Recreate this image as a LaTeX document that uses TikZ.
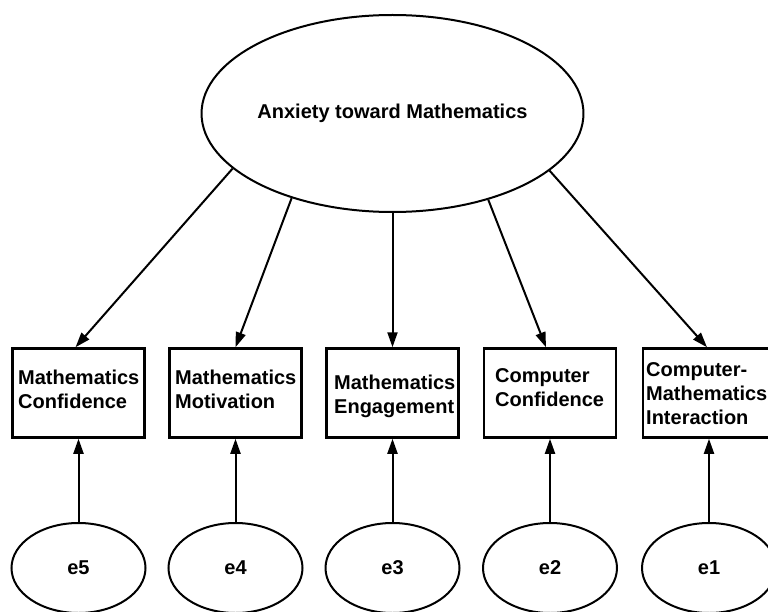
\documentclass[tikz,border=0pt]{standalone}
\usepackage{fontspec}
\setmainfont{Liberation Sans}
\usetikzlibrary{shapes.geometric,arrows.meta}
\tikzset{
  latent/.style={ellipse,draw,line width=2pt,inner sep=0pt,font=\fontsize{20}{24}\selectfont\bfseries},
  errnode/.style={ellipse,draw,line width=2pt,inner sep=0pt,minimum width=134pt,minimum height=90pt,font=\fontsize{20}{24}\selectfont\bfseries},
  obsbox/.style={rectangle,draw,line width=2.5pt,minimum width=132pt,minimum height=89pt,inner sep=0pt},
  boxtext/.style={anchor=north west,inner sep=0pt,align=left,font=\fontsize{20}{24}\selectfont\bfseries},
  path arrow/.style={line width=2pt,-{Triangle[length=15pt,width=10pt]}}
}
\begin{document}
\begin{tikzpicture}[x=1pt,y=-1pt]
\useasboundingbox (0,0) rectangle (768,612);
\fill[white] (0,0) rectangle (768,612);
\clip (0,0) rectangle (768,612);
% latent factor
\node[latent,minimum width=350pt,minimum height=197pt] (A) at (392.5,113.5) {Anxiety toward Mathematics};
% observed boxes
\node[obsbox] (b1) at (78.5,393) {};
\node[obsbox] (b2) at (235.5,393) {};
\node[obsbox] (b3) at (392.5,393) {};
\node[obsbox] (b4) at (550,393) {};
\node[obsbox] (b5) at (709,393) {};
\node[boxtext] (t1) at (18,370) {Mathematics\\Confidence};
\node[boxtext] (t2) at (175,370) {Mathematics\\Motivation};
\node[boxtext] (t3) at (334,375) {Mathematics\\Engagement};
\node[boxtext] (t4) at (495,368) {Computer\\Confidence};
\node[boxtext] (t5) at (646,362) {Computer-\\Mathematics\\Interaction};
% error terms
\node[errnode] (e5) at (78.5,568) {e5};
\node[errnode] (e4) at (235.5,568) {e4};
\node[errnode] (e3) at (392.5,568) {e3};
\node[errnode] (e2) at (550,568) {e2};
\node[errnode] (e1) at (709,568) {e1};
% loadings
\draw[path arrow] (A.199.5) -- ([xshift=-3pt]b1.north);
\draw[path arrow] (A.220.3) -- (b2.north);
\draw[path arrow] (A.270) -- (b3.north);
\draw[path arrow] (A.318.8) -- ([xshift=-4pt]b4.north);
\draw[path arrow] (A.340.3) -- ([xshift=-2pt]b5.north);
% errors
\draw[path arrow] (e5.north) -- (b1.south);
\draw[path arrow] (e4.north) -- (b2.south);
\draw[path arrow] (e3.north) -- (b3.south);
\draw[path arrow] (e2.north) -- (b4.south);
\draw[path arrow] (e1.north) -- (b5.south);
\end{tikzpicture}
\end{document}
